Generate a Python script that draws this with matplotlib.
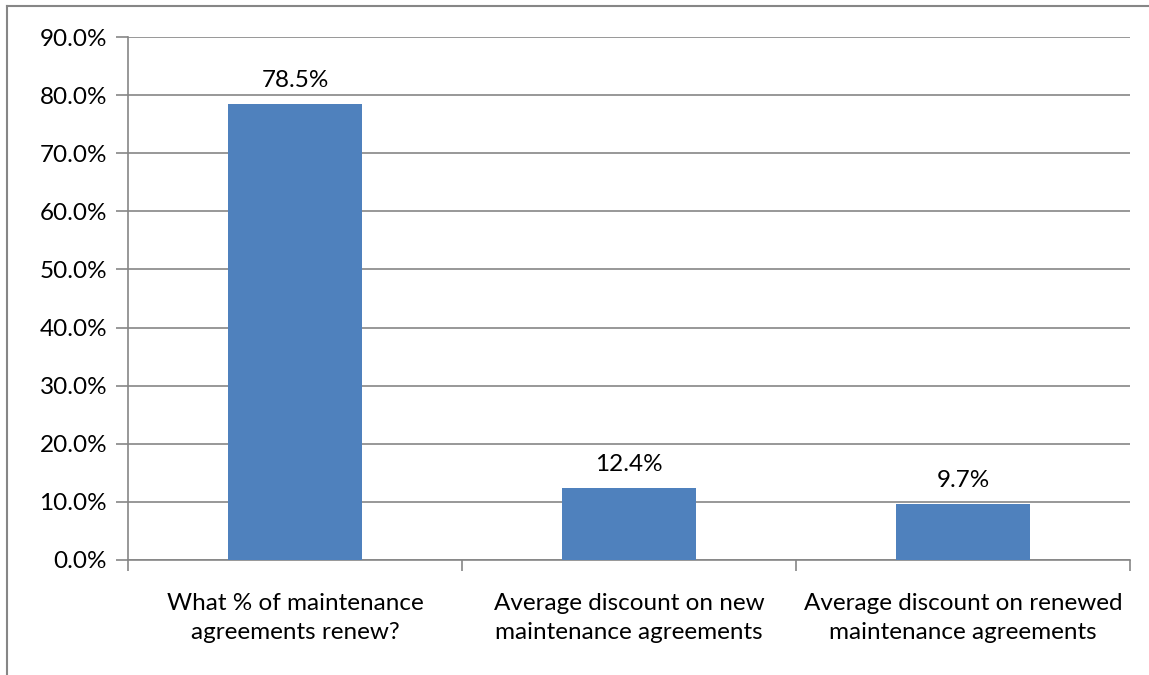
import matplotlib.pyplot as plt
from matplotlib.lines import Line2D

categories = ["What % of maintenance\nagreements renew?",
              "Average discount on new\nmaintenance agreements",
              "Average discount on renewed\nmaintenance agreements"]
values = [78.5, 12.4, 9.7]
yticks = [0, 10, 20, 30, 40, 50, 60, 70, 80, 90]

plt.rcParams['font.family'] = ['Lato', 'DejaVu Sans']
grey = '#868686'
fs = 17.5

fig = plt.figure(figsize=(11.49, 6.75), dpi=100)
ax = fig.add_axes([128 / 1149, 1 - 560 / 675, 1002 / 1149, 523 / 675])

x = list(range(len(categories)))
ax.bar(x, values, width=0.4, color='#4F81BD', zorder=3)
for xi, v in zip(x, values):
    ax.text(xi, v + 2.2, f"{v:.1f}%", ha='center', va='bottom', fontsize=fs, color='black')

ax.set_xlim(-0.5, len(categories) - 0.5)
ax.set_ylim(0, 90)
ax.set_yticks(yticks)
ax.set_yticklabels([f"{t:.1f}%" for t in yticks], fontsize=fs)
ax.yaxis.grid(True, color=grey, linewidth=1.2, zorder=0)

ax.set_xticks([-0.5, 0.5, 1.5, 2.5], minor=False)
ax.set_xticklabels([])
ax.set_xticks(x, minor=True)
ax.set_xticklabels(categories, minor=True, fontsize=fs, linespacing=1.45)
ax.tick_params(axis='x', which='major', length=8, color=grey, width=1.2)
ax.tick_params(axis='x', which='minor', length=0, pad=24)
ax.tick_params(axis='y', length=9, color=grey, width=1.2, pad=6)

for s in ['top', 'right']:
    ax.spines[s].set_visible(False)
for s in ['left', 'bottom']:
    ax.spines[s].set_color(grey)
    ax.spines[s].set_linewidth(1.2)

# outer chart frame (left and top edges visible)
fig.add_artist(Line2D([7 / 1149, 7 / 1149], [0, 1 - 6 / 675], transform=fig.transFigure, color=grey, linewidth=1.5))
fig.add_artist(Line2D([7 / 1149, 1], [1 - 6 / 675, 1 - 6 / 675], transform=fig.transFigure, color=grey, linewidth=1.5))

fig.savefig('out.png', dpi=100)
